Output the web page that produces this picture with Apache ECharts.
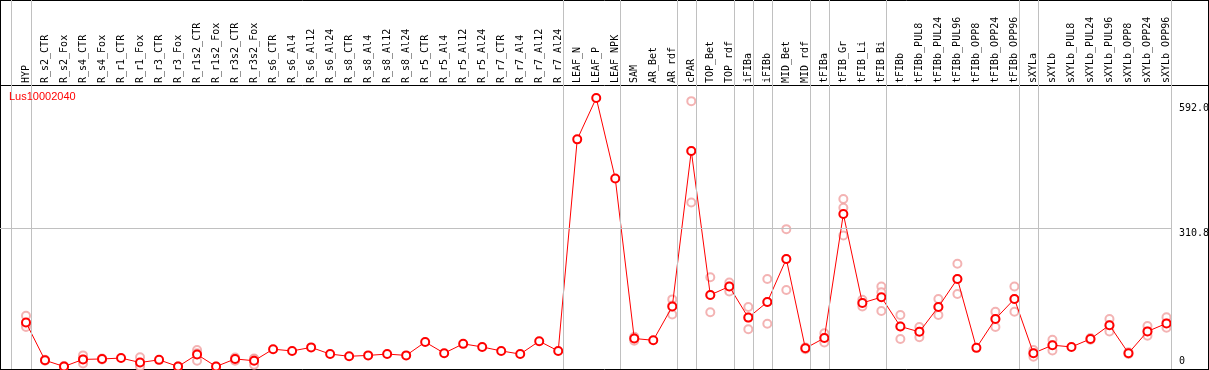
<!DOCTYPE html>
<html>
<head>
<meta charset="utf-8">
<script src="https://cdn.jsdelivr.net/npm/echarts@6/dist/echarts.min.js"></script>
<style>
html,body{margin:0;padding:0;background:#fff;}
#c{width:1209px;height:370px;}
</style>
</head>
<body>
<div id="c"></div>
<script>
const categories = ["HYP","R_s2_CTR","R_s2_Fox","R_s4_CTR","R_s4_Fox","R_r1_CTR","R_r1_Fox","R_r3_CTR","R_r3_Fox","R_r1s2_CTR","R_r1s2_Fox","R_r3s2_CTR","R_r3s2_Fox","R_s6_CTR","R_s6_Al4","R_s6_Al12","R_s6_Al24","R_s8_CTR","R_s8_Al4","R_s8_Al12","R_s8_Al24","R_r5_CTR","R_r5_Al4","R_r5_Al12","R_r5_Al24","R_r7_CTR","R_r7_Al4","R_r7_Al12","R_r7_Al24","LEAF_N","LEAF_P","LEAF_NPK","SAM","AR_Bet","AR_rdf","cPAR","TOP_Bet","TOP_rdf","iFIBa","iFIBb","MID_Bet","MID_rdf","tFIBa","tFIB_Gr","tFIB_Li","tFIB_Bi","tFIBb","tFIBb_PUL8","tFIBb_PUL24","tFIBb_PUL96","tFIBb_OPP8","tFIBb_OPP24","tFIBb_OPP96","sXYLa","sXYLb","sXYLb_PUL8","sXYLb_PUL24","sXYLb_PUL96","sXYLb_OPP8","sXYLb_OPP24","sXYLb_OPP96"];

const means = [99,14,0,16,17,19,9,15,0,27,0,17,13,39,35,43,28,23,25,28,25,55,30,51,44,35,28,57,35,511,604,423,63,59,135,485,161,180,110,145,242,41,64,343,143,156,90,78,134,197,42,107,152,30,48,44,62,93,30,79,97];

const replicates = [
  [114,95,89],[15,13],[1,0],[25,16,7],[18,16],[],[21,5,0],[],[0,0],[37,30,13],
  [0],[20,17,13],[18,17,4],[],[],[],[],[],[],[],
  [],[],[],[],[],[],[],[],[],[],
  [],[],[67,63,58],[],[151,137,117],[597,485,369],[201,161,122],[189,180,169],[134,110,84],[197,145,96],
  [309,242,172],[43,39],[75,64,54],[377,357,295],[150,143,135],[180,167,125],[116,90,62],[89,78,66],[152,134,116],[231,197,163],
  [],[123,107,89],[180,152,123],[37,30,22],[60,48,36],[],[64,60],[107,93,79],[32,28],[91,79,69],
  [111,97,87]
];

// group separators: drawn after these category indices
const groupEnds = [-1,0,28,31,34,35,37,38,39,41,42,45,52,53,60];

const yTickValues = [0, 310.8, 592.0];
const yTickLabels = ["0", "310.8", "592.0"];
const gridLines = [310.8];
const title = "Lus10002040";

const meanData = means.map((v,i)=>[i,v]);
const repData = [];
replicates.forEach((arr,i)=>arr.forEach(v=>repData.push([i,v])));

const xMin = -1.368, xMax = 60.29;
const yMin = -5.6, yMax = 824.5;
const mono = "DejaVu Sans Mono";

const chart = echarts.init(document.getElementById('c'), null, {renderer:'canvas'});
const labelFor = v => { const i = yTickValues.indexOf(v); return i>=0 ? yTickLabels[i] : ''; };

chart.setOption({
  animation:false,
  backgroundColor:'#fff',
  title:{text:title,left:9,top:91,padding:0,textStyle:{color:'#ff0000',fontSize:11,fontWeight:'normal',fontFamily:'Liberation Sans'}},
  grid:{left:0,right:37,top:0,bottom:1,containLabel:false,outerBoundsMode:'none'},
  xAxis:[
    {type:'value',min:xMin,max:xMax,show:false},
    {type:'value',min:xMin,max:xMax,position:'top',offset:-85,
     axisLine:{show:false},axisTick:{show:false},splitLine:{show:false},
     axisLabel:{customValues:categories.map((c,i)=>i),rotate:90,margin:2,
       fontFamily:mono,fontSize:10,color:'#000',
       formatter:v=>categories[Math.round(v)]||''}}
  ],
  yAxis:[
    {type:'value',min:yMin,max:yMax,position:'right',
     axisLine:{show:false},axisTick:{show:false},splitLine:{show:false},
     axisLabel:{customValues:yTickValues.filter(v=>v!==0),verticalAlign:'top',margin:7,
       fontFamily:mono,fontSize:10,color:'#000',formatter:labelFor}},
    {type:'value',min:yMin,max:yMax,position:'right',
     axisLine:{show:false},axisTick:{show:false},splitLine:{show:false},
     axisLabel:{customValues:yTickValues.filter(v=>v===0),verticalAlign:'bottom',margin:7,
       fontFamily:mono,fontSize:10,color:'#000',formatter:labelFor}}
  ],
  series:[
    {type:'scatter',name:'guides',data:[],silent:true,
     markLine:{silent:true,symbol:['none','none'],label:{show:false},animation:false,
       lineStyle:{color:'#c0c0c0',width:1,type:'solid'},
       data:groupEnds.map(k=>({xAxis:k+0.247})).concat(gridLines.map(v=>({yAxis:v})))}},
    {type:'scatter',name:'replicates',data:repData,symbol:'emptyCircle',symbolSize:8,
     itemStyle:{color:'#f0a0a0',borderColor:'#eb9a9a',borderWidth:1.1},z:3,silent:true},
    {type:'line',name:'mean',data:meanData,symbol:'emptyCircle',symbolSize:8,showAllSymbol:true,
     lineStyle:{color:'#ff0000',width:1},
     itemStyle:{color:'#ff0000',borderColor:'#e00000',borderWidth:1.3},z:4,silent:true}
  ],
  graphic:[
    {type:'line',shape:{x1:0,y1:0.5,x2:1209,y2:0.5},style:{stroke:'#000',lineWidth:1},silent:true},
    {type:'line',shape:{x1:0,y1:85.5,x2:1209,y2:85.5},style:{stroke:'#000',lineWidth:1},silent:true},
    {type:'line',shape:{x1:0,y1:369.5,x2:1209,y2:369.5},style:{stroke:'#000',lineWidth:1},silent:true},
    {type:'line',shape:{x1:0.5,y1:0,x2:0.5,y2:370},style:{stroke:'#000',lineWidth:1},silent:true},
    {type:'line',shape:{x1:1208.5,y1:0,x2:1208.5,y2:370},style:{stroke:'#000',lineWidth:1},silent:true}
  ]
});
</script>
</body>
</html>
